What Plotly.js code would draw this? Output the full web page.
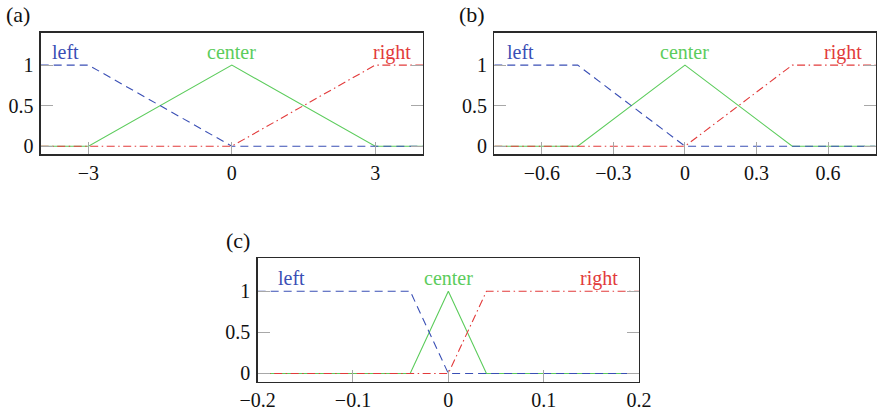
<!DOCTYPE html>
<html>
<head>
<meta charset="utf-8">
<script src="https://cdn.plot.ly/plotly-3.0.1.min.js"></script>
<style>html,body{margin:0;padding:0;background:#fff;}#chart{width:877px;height:414px;}</style>
</head>
<body>
<div id="chart"></div>
<script>
// ---- data ----
const seriesNames = ["left", "center", "right"];
// panel (a)
const aLeftX = [-4, -3, 0, 4];        const aLeftY = [1, 1, 0, 0];
const aCenterX = [-4, -3, 0, 3, 4];   const aCenterY = [0, 0, 1, 0, 0];
const aRightX = [-4, 0, 3, 4];        const aRightY = [0, 0, 1, 1];
const aTickVals = [-3, 0, 3];         const aTickText = ["\u22123", "0", "3"];
const aLabelX = [-3.49, 0, 3.36];
// panel (b)
const bLeftX = [-0.8, -0.45, 0, 0.8];         const bLeftY = [1, 1, 0, 0];
const bCenterX = [-0.8, -0.45, 0, 0.45, 0.8]; const bCenterY = [0, 0, 1, 0, 0];
const bRightX = [-0.8, 0, 0.45, 0.8];         const bRightY = [0, 0, 1, 1];
const bTickVals = [-0.6, -0.3, 0, 0.3, 0.6];  const bTickText = ["\u22120.6", "\u22120.3", "0", "0.3", "0.6"];
const bLabelX = [-0.69, 0, 0.662];
// panel (c)
const cLeftX = [-0.2, -0.04, 0, 0.2];         const cLeftY = [1, 1, 0, 0];
const cCenterX = [-0.2, -0.04, 0, 0.04, 0.2]; const cCenterY = [0, 0, 1, 0, 0];
const cRightX = [-0.2, 0, 0.04, 0.2];         const cRightY = [0, 0, 1, 1];
const cTickVals = [-0.2, -0.1, 0, 0.1, 0.2];  const cTickText = ["\u22120.2", "\u22120.1", "0", "0.1", "0.2"];
const cLabelX = [-0.165, 0, 0.158];
// y axis (shared look)
const yTickVals = [0, 0.5, 1];  const yTickText = ["0", "0.5", "1"];
const panelTitles = ["(a)", "(b)", "(c)"];

// ---- styles ----
const BLUE = "#3a4fb5", GREEN = "#5ccc5c", RED = "#e23b3b";
const FONT = "Liberation Serif";
const FS = 20;

function tr(x, y, color, dash, xa, ya) {
  return {x: x, y: y, mode: "lines", xaxis: xa, yaxis: ya, showlegend: false, hoverinfo: "skip",
          line: {color: color, width: 1.1, dash: dash}};
}
const DASH = "8px,5px";
const DASHDOT = "8px,3.5px,1.5px,3.5px";

const data = [
  tr(aCenterX, aCenterY, GREEN, "solid", "x", "y"),
  tr(aLeftX, aLeftY, BLUE, DASH, "x", "y"),
  tr(aRightX, aRightY, RED, DASHDOT, "x", "y"),
  tr(bCenterX, bCenterY, GREEN, "solid", "x2", "y2"),
  tr(bLeftX, bLeftY, BLUE, DASH, "x2", "y2"),
  tr(bRightX, bRightY, RED, DASHDOT, "x2", "y2"),
  tr(cCenterX, cCenterY, GREEN, "solid", "x3", "y3"),
  tr(cLeftX, cLeftY, BLUE, DASH, "x3", "y3"),
  tr(cRightX, cRightY, RED, DASHDOT, "x3", "y3")
];

function xax(domain, range, tv, tt, anchor) {
  return {domain: domain, range: range, anchor: anchor, tickmode: "array", tickvals: tv, ticktext: tt,
          ticks: "inside", ticklen: 12, tickwidth: 1, tickcolor: "#a8a8a8",
          showline: true, linecolor: "#2a2a2a", linewidth: 1.3, mirror: true,
          showgrid: false, zeroline: false, fixedrange: true,
          tickfont: {family: FONT, size: FS, color: "#111"}, ticklabelstandoff: 0};
}
function yax(domain, anchor) {
  return {domain: domain, range: [-0.1, 1.4], anchor: anchor, tickmode: "array", tickvals: yTickVals, ticktext: yTickText,
          ticks: "inside", ticklen: 12, tickwidth: 1, tickcolor: "#a8a8a8",
          showline: true, linecolor: "#2a2a2a", linewidth: 1.3, mirror: "ticks",
          showgrid: false, zeroline: false, fixedrange: true,
          tickfont: {family: FONT, size: FS, color: "#111"}, ticklabelstandoff: 2};
}

const colors = [BLUE, GREEN, RED];
const annotations = [];
function addLabels(labelX, xref, yref) {
  for (let i = 0; i < 3; i++) {
    annotations.push({x: labelX[i], y: 1.16, xref: xref, yref: yref, text: seriesNames[i], showarrow: false,
      xanchor: "center", yanchor: "middle", font: {family: FONT, size: FS, color: colors[i]}});
  }
}
addLabels(aLabelX, "x", "y");
addLabels(bLabelX, "x2", "y2");
addLabels(cLabelX, "x3", "y3");
const titlePos = [[18, 14], [471.7, 14], [237.7, 240]];
for (let i = 0; i < 3; i++) {
  annotations.push({x: titlePos[i][0] / 877, y: 1 - titlePos[i][1] / 414, xref: "paper", yref: "paper",
    text: panelTitles[i], showarrow: false, xanchor: "center", yanchor: "middle",
    font: {family: FONT, size: 22, color: "#111"}});
}

const layout = {
  width: 877, height: 414,
  margin: {l: 0, r: 0, t: 0, b: 0},
  paper_bgcolor: "#fff", plot_bgcolor: "#fff",
  font: {family: FONT},
  xaxis: xax([0.0464, 0.4823], [-4, 4], aTickVals, aTickText, "y"),
  yaxis: yax([0.6273, 0.9210], "x"),
  xaxis2: xax([0.5636, 0.9985], [-0.8, 0.8], bTickVals, bTickText, "y2"),
  yaxis2: yax([0.6273, 0.9210], "x2"),
  xaxis3: xax([0.2938, 0.7286], [-0.2, 0.2], cTickVals, cTickText, "y3"),
  yaxis3: yax([0.0780, 0.3761], "x3"),
  annotations: annotations
};

Plotly.newPlot("chart", data, layout, {displayModeBar: false, staticPlot: true});
</script>
</body>
</html>
